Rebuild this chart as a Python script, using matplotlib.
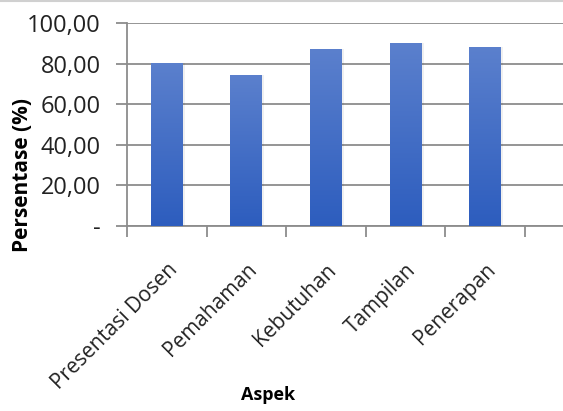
import matplotlib
matplotlib.use("Agg")
import matplotlib.pyplot as plt
import numpy as np
from matplotlib.colors import LinearSegmentedColormap

categories = ["Presentasi Dosen", "Pemahaman", "Kebutuhan", "Tampilan", "Penerapan"]
values = [80.3, 74.2, 87.0, 90.1, 88.0]
yticks = [0, 20, 40, 60, 80, 100]
ytick_labels = ["-", "20,00", "40,00", "60,00", "80,00", "100,00"]

plt.rcParams["font.family"] = ["Open Sans", "DejaVu Sans"]

fig = plt.figure(figsize=(5.63, 4.11), dpi=100)
ax = fig.add_axes([127 / 563, 1 - 226 / 411, 1 - 127 / 563, 203 / 411])

x = np.arange(len(categories))
bars = ax.bar(x, values, width=0.4, color="none", zorder=3)

# gradient fill, lighter at top
cmap = LinearSegmentedColormap.from_list("bar", ["#2d5dbe", "#5b80cd"])
grad = np.linspace(0, 1, 256).reshape(-1, 1)
for b in bars:
    x0, w, h = b.get_x(), b.get_width(), b.get_height()
    # soft shadow
    ax.bar(x0 + w / 2 + 0.015, h, width=w + 0.025, color="#000000", alpha=0.06, zorder=2)
    im = ax.imshow(grad, extent=(x0, x0 + w, 0, h), origin="lower", cmap=cmap,
                   aspect="auto", zorder=3)
    im.set_clip_path(b)

ax.set_xlim(-0.5, 4.98)
ax.set_ylim(0, 100)

ax.set_yticks(yticks)
ax.set_yticklabels(ytick_labels, fontsize=17, color="#222222")
ax.yaxis.grid(True, color="#8c8c8c", linewidth=1.3, zorder=1)
ax.tick_params(axis="y", length=8, width=1.3, color="#8c8c8c", pad=11)

ax.set_xticks(np.arange(-0.5, 4.6, 1.0))
ax.set_xticklabels([])
ax.tick_params(axis="x", which="major", length=8, width=1.3, color="#8c8c8c")
ax.set_xticks(x, minor=True)
ax.set_xticklabels(categories, minor=True, rotation=45, ha="right",
                   rotation_mode="anchor", fontsize=15, color="#222222")
ax.tick_params(axis="x", which="minor", length=0, pad=24)

for s in ["top", "right"]:
    ax.spines[s].set_visible(False)
for s in ["left", "bottom"]:
    ax.spines[s].set_color("#8c8c8c")
    ax.spines[s].set_linewidth(1.3)

ax.set_ylabel("Persentase (%)", fontsize=15, fontweight="bold")
ax.yaxis.set_label_coords(-94 / 436, (226 - 175) / 203)
ax.set_xlabel("Aspek", fontsize=13, fontweight="bold")
ax.xaxis.set_label_coords((268 - 127) / 436, -(386 - 226) / 203)

# thin border line at the top of the picture
fig.add_artist(plt.Line2D([0, 1], [0.998, 0.998], color="#d0d0d0", linewidth=1.5))

fig.savefig("out.png", dpi=100)
